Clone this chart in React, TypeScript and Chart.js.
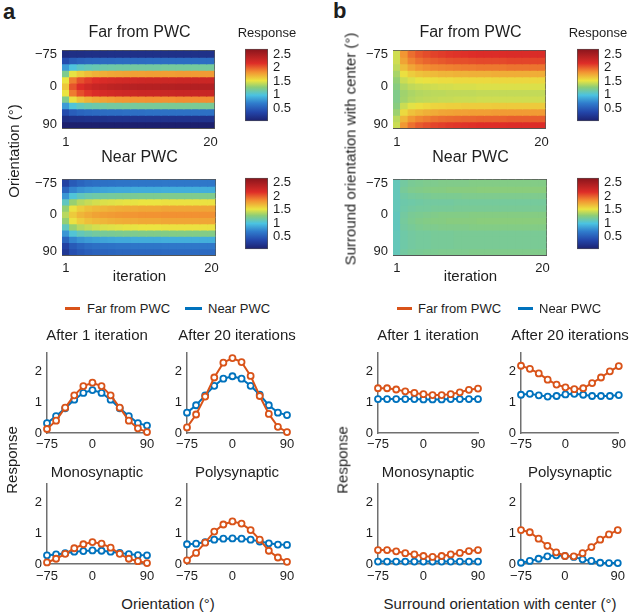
import React, { useEffect, useRef } from "react";
import { Chart, registerables } from "chart.js";
Chart.register(...registerables);

const FONT = "'Liberation Sans', Arial, Helvetica, sans-serif";
const TEXT = "#1e1e1e";
const AXIS = "#707070";
const ORANGE = "#D95319";
const BLUE = "#0072BD";

// ---------- data ----------
const ORIENTATIONS = [-75, -60, -45, -30, -15, 0, 15, 30, 45, 60, 75, 90];
const ITERATIONS = ["1","2","3","4","5","6","7","8","9","10","11","12","13","14","15","16","17","18","19","20"];
const HEAT_TICK_ORIENTATIONS = [-75, 0, 90];
const COLORBAR_TICKS = [0.5, 1, 1.5, 2, 2.5];
const LINE_Y_TICKS = [0, 1, 2];
const LINE_X_TICKS = [-75, 0, 90];
const CMAP_MIN = 0.03;
const CMAP_MAX = 2.69;

// panel a line plots (Far = orange, Near = blue)
const aFar1 = [0.13, 0.40, 0.82, 1.22, 1.52, 1.63, 1.52, 1.22, 0.82, 0.40, 0.15, 0.03];
const aNear1 = [0.32, 0.55, 0.80, 1.08, 1.30, 1.39, 1.30, 1.08, 0.80, 0.55, 0.32, 0.24];
const aFar20 = [0.18, 0.60, 1.18, 1.80, 2.28, 2.43, 2.30, 1.85, 1.20, 0.62, 0.20, 0.03];
const aNear20 = [0.66, 0.90, 1.22, 1.53, 1.76, 1.84, 1.76, 1.53, 1.24, 0.90, 0.66, 0.58];
const aFarMono = [0.05, 0.17, 0.33, 0.51, 0.64, 0.71, 0.66, 0.53, 0.33, 0.17, 0.09, 0.03];
const aNearMono = [0.28, 0.31, 0.35, 0.40, 0.42, 0.44, 0.43, 0.40, 0.36, 0.32, 0.29, 0.28];
const aFarPoly = [0.12, 0.36, 0.69, 1.05, 1.28, 1.38, 1.31, 1.10, 0.79, 0.43, 0.21, 0.07];
const aNearPoly = [0.64, 0.66, 0.71, 0.79, 0.82, 0.83, 0.82, 0.79, 0.73, 0.67, 0.63, 0.62];

// panel b line plots
const bFar1 = [1.45, 1.45, 1.41, 1.35, 1.30, 1.26, 1.23, 1.23, 1.26, 1.32, 1.40, 1.44];
const bNear1 = [1.10, 1.10, 1.10, 1.10, 1.10, 1.09, 1.09, 1.09, 1.10, 1.10, 1.10, 1.10];
const bFar20 = [2.18, 2.08, 1.93, 1.73, 1.57, 1.48, 1.42, 1.45, 1.62, 1.80, 2.00, 2.17];
const bNear20 = [1.24, 1.27, 1.22, 1.18, 1.20, 1.25, 1.27, 1.24, 1.20, 1.20, 1.20, 1.23];
const bFarMono = [0.45, 0.45, 0.41, 0.35, 0.31, 0.26, 0.23, 0.26, 0.31, 0.36, 0.42, 0.45];
const bNearMono = [0.08, 0.08, 0.08, 0.08, 0.08, 0.08, 0.08, 0.08, 0.08, 0.08, 0.08, 0.08];
const bFarPoly = [1.10, 1.03, 0.82, 0.59, 0.38, 0.26, 0.25, 0.35, 0.55, 0.79, 0.96, 1.10];
const bNearPoly = [0.04, 0.10, 0.17, 0.25, 0.28, 0.26, 0.23, 0.15, 0.10, 0.04, 0.03, 0.03];

// heatmaps: rows = orientations (-75 .. 90), columns = iterations 1..20
const heatAFar = [
  [0.13,0.16,0.16,0.17,0.17,0.17,0.18,0.18,0.18,0.18,0.18,0.18,0.18,0.18,0.18,0.18,0.18,0.18,0.18,0.18],
  [0.40,0.50,0.54,0.56,0.57,0.58,0.58,0.59,0.59,0.59,0.59,0.60,0.60,0.60,0.60,0.60,0.60,0.60,0.60,0.60],
  [0.82,1.00,1.07,1.10,1.12,1.14,1.15,1.16,1.16,1.17,1.17,1.17,1.17,1.18,1.18,1.18,1.18,1.18,1.18,1.18],
  [1.22,1.51,1.61,1.67,1.71,1.73,1.75,1.76,1.77,1.78,1.78,1.79,1.79,1.79,1.79,1.80,1.80,1.80,1.80,1.80],
  [1.52,1.90,2.04,2.11,2.16,2.19,2.21,2.23,2.24,2.25,2.26,2.27,2.27,2.27,2.27,2.28,2.28,2.28,2.28,2.28],
  [1.63,2.03,2.17,2.25,2.30,2.33,2.36,2.37,2.39,2.40,2.41,2.41,2.41,2.42,2.42,2.43,2.43,2.43,2.43,2.43],
  [1.52,1.91,2.05,2.13,2.18,2.21,2.23,2.25,2.26,2.27,2.28,2.28,2.28,2.29,2.29,2.30,2.30,2.30,2.30,2.30],
  [1.22,1.54,1.65,1.71,1.75,1.77,1.79,1.81,1.82,1.83,1.83,1.84,1.84,1.84,1.84,1.85,1.85,1.85,1.85,1.85],
  [0.82,1.01,1.08,1.12,1.14,1.15,1.17,1.17,1.18,1.18,1.19,1.19,1.19,1.20,1.20,1.20,1.20,1.20,1.20,1.20],
  [0.40,0.51,0.55,0.57,0.58,0.59,0.60,0.60,0.61,0.61,0.61,0.62,0.62,0.62,0.62,0.62,0.62,0.62,0.62,0.62],
  [0.15,0.18,0.18,0.19,0.19,0.19,0.20,0.20,0.20,0.20,0.20,0.20,0.20,0.20,0.20,0.20,0.20,0.20,0.20,0.20],
  [0.03,0.03,0.03,0.03,0.03,0.03,0.03,0.03,0.03,0.03,0.03,0.03,0.03,0.03,0.03,0.03,0.03,0.03,0.03,0.03],
];
const heatANear = [
  [0.32,0.49,0.55,0.59,0.61,0.62,0.63,0.64,0.64,0.65,0.65,0.65,0.65,0.66,0.66,0.66,0.66,0.66,0.66,0.66],
  [0.55,0.73,0.79,0.82,0.84,0.86,0.87,0.88,0.88,0.89,0.89,0.89,0.89,0.90,0.90,0.90,0.90,0.90,0.90,0.90],
  [0.80,1.01,1.09,1.13,1.15,1.17,1.18,1.19,1.20,1.20,1.21,1.21,1.21,1.22,1.22,1.22,1.22,1.22,1.22,1.22],
  [1.08,1.31,1.39,1.43,1.46,1.48,1.49,1.50,1.51,1.51,1.52,1.52,1.52,1.53,1.53,1.53,1.53,1.53,1.53,1.53],
  [1.30,1.53,1.61,1.66,1.69,1.70,1.72,1.73,1.74,1.74,1.75,1.75,1.75,1.76,1.76,1.76,1.76,1.76,1.76,1.76],
  [1.39,1.62,1.70,1.74,1.77,1.79,1.80,1.81,1.82,1.82,1.83,1.83,1.83,1.84,1.84,1.84,1.84,1.84,1.84,1.84],
  [1.30,1.53,1.61,1.66,1.69,1.70,1.72,1.73,1.74,1.74,1.75,1.75,1.75,1.76,1.76,1.76,1.76,1.76,1.76,1.76],
  [1.08,1.31,1.39,1.43,1.46,1.48,1.49,1.50,1.51,1.51,1.52,1.52,1.52,1.53,1.53,1.53,1.53,1.53,1.53,1.53],
  [0.80,1.02,1.10,1.14,1.17,1.19,1.20,1.21,1.22,1.22,1.23,1.23,1.23,1.24,1.24,1.24,1.24,1.24,1.24,1.24],
  [0.55,0.73,0.79,0.82,0.84,0.86,0.87,0.88,0.88,0.89,0.89,0.89,0.89,0.90,0.90,0.90,0.90,0.90,0.90,0.90],
  [0.32,0.49,0.55,0.59,0.61,0.62,0.63,0.64,0.64,0.65,0.65,0.65,0.65,0.66,0.66,0.66,0.66,0.66,0.66,0.66],
  [0.24,0.41,0.47,0.51,0.53,0.54,0.55,0.56,0.56,0.57,0.57,0.57,0.57,0.58,0.58,0.58,0.58,0.58,0.58,0.58],
];
const heatBFar = [
  [1.45,1.82,1.95,2.02,2.06,2.09,2.11,2.13,2.14,2.15,2.16,2.17,2.17,2.17,2.17,2.18,2.18,2.18,2.18,2.18],
  [1.45,1.77,1.88,1.94,1.98,2.00,2.02,2.04,2.05,2.05,2.06,2.07,2.07,2.07,2.07,2.08,2.08,2.08,2.08,2.08],
  [1.41,1.67,1.76,1.82,1.85,1.87,1.88,1.89,1.90,1.91,1.91,1.92,1.92,1.92,1.92,1.93,1.93,1.93,1.93,1.93],
  [1.35,1.54,1.61,1.65,1.67,1.68,1.70,1.70,1.71,1.71,1.72,1.72,1.72,1.73,1.73,1.73,1.73,1.73,1.73,1.73],
  [1.30,1.44,1.48,1.51,1.53,1.54,1.55,1.55,1.56,1.56,1.56,1.56,1.56,1.57,1.57,1.57,1.57,1.57,1.57,1.57],
  [1.26,1.37,1.41,1.43,1.44,1.45,1.46,1.46,1.47,1.47,1.47,1.48,1.48,1.48,1.48,1.48,1.48,1.48,1.48,1.48],
  [1.23,1.33,1.36,1.38,1.39,1.40,1.40,1.41,1.41,1.41,1.41,1.42,1.42,1.42,1.42,1.42,1.42,1.42,1.42,1.42],
  [1.23,1.34,1.38,1.40,1.41,1.42,1.43,1.43,1.44,1.44,1.44,1.45,1.45,1.45,1.45,1.45,1.45,1.45,1.45,1.45],
  [1.26,1.44,1.50,1.54,1.56,1.58,1.59,1.60,1.60,1.61,1.61,1.61,1.61,1.62,1.62,1.62,1.62,1.62,1.62,1.62],
  [1.32,1.56,1.65,1.69,1.72,1.74,1.76,1.77,1.78,1.78,1.79,1.79,1.79,1.80,1.80,1.80,1.80,1.80,1.80,1.80],
  [1.40,1.70,1.81,1.87,1.90,1.93,1.95,1.96,1.97,1.98,1.98,1.99,1.99,1.99,1.99,2.00,2.00,2.00,2.00,2.00],
  [1.44,1.81,1.94,2.01,2.05,2.08,2.10,2.12,2.13,2.14,2.15,2.16,2.16,2.16,2.16,2.17,2.17,2.17,2.17,2.17],
];
const heatBNear = [
  [1.10,1.17,1.20,1.21,1.22,1.22,1.23,1.23,1.23,1.23,1.24,1.24,1.24,1.24,1.24,1.24,1.24,1.24,1.24,1.24],
  [1.10,1.19,1.22,1.23,1.24,1.25,1.25,1.26,1.26,1.26,1.26,1.27,1.27,1.27,1.27,1.27,1.27,1.27,1.27,1.27],
  [1.10,1.16,1.18,1.19,1.20,1.21,1.21,1.21,1.21,1.22,1.22,1.22,1.22,1.22,1.22,1.22,1.22,1.22,1.22,1.22],
  [1.10,1.14,1.15,1.16,1.17,1.17,1.17,1.17,1.18,1.18,1.18,1.18,1.18,1.18,1.18,1.18,1.18,1.18,1.18,1.18],
  [1.10,1.15,1.17,1.18,1.18,1.19,1.19,1.19,1.20,1.20,1.20,1.20,1.20,1.20,1.20,1.20,1.20,1.20,1.20,1.20],
  [1.09,1.17,1.20,1.21,1.22,1.23,1.24,1.24,1.24,1.24,1.25,1.25,1.25,1.25,1.25,1.25,1.25,1.25,1.25,1.25],
  [1.09,1.18,1.21,1.23,1.24,1.25,1.25,1.26,1.26,1.26,1.26,1.27,1.27,1.27,1.27,1.27,1.27,1.27,1.27,1.27],
  [1.09,1.17,1.19,1.21,1.22,1.22,1.23,1.23,1.23,1.23,1.24,1.24,1.24,1.24,1.24,1.24,1.24,1.24,1.24,1.24],
  [1.10,1.15,1.17,1.18,1.18,1.19,1.19,1.19,1.20,1.20,1.20,1.20,1.20,1.20,1.20,1.20,1.20,1.20,1.20,1.20],
  [1.10,1.15,1.17,1.18,1.18,1.19,1.19,1.19,1.20,1.20,1.20,1.20,1.20,1.20,1.20,1.20,1.20,1.20,1.20,1.20],
  [1.10,1.15,1.17,1.18,1.18,1.19,1.19,1.19,1.20,1.20,1.20,1.20,1.20,1.20,1.20,1.20,1.20,1.20,1.20,1.20],
  [1.10,1.17,1.19,1.20,1.21,1.21,1.22,1.22,1.22,1.22,1.23,1.23,1.23,1.23,1.23,1.23,1.23,1.23,1.23,1.23],
];

// ---------- colormap (printed jet look) ----------
const CMAP_STOPS: [number, number[]][] = [
  [0.0, [28, 32, 110]],
  [0.125, [35, 70, 170]],
  [0.25, [48, 125, 205]],
  [0.36, [75, 195, 225]],
  [0.47, [140, 205, 120]],
  [0.56, [235, 228, 65]],
  [0.68, [242, 145, 50]],
  [0.8, [222, 45, 40]],
  [1.0, [135, 20, 28]],
];
const rgb = (c: number[]) => `rgb(${Math.round(c[0])},${Math.round(c[1])},${Math.round(c[2])})`;
function colorFor(v: number): string {
  let t = (v - CMAP_MIN) / (CMAP_MAX - CMAP_MIN);
  t = Math.max(0, Math.min(1, t));
  for (let i = 1; i < CMAP_STOPS.length; i++) {
    const [t1, c1] = CMAP_STOPS[i];
    const [t0, c0] = CMAP_STOPS[i - 1];
    if (t <= t1) {
      const f = (t - t0) / (t1 - t0);
      return rgb([0, 1, 2].map((k) => c0[k] + f * (c1[k] - c0[k])));
    }
  }
  return rgb(CMAP_STOPS[CMAP_STOPS.length - 1][1]);
}

const fmtNum = (v: number) => (v < 0 ? "\u2212" + Math.abs(v) : String(v));
const tickFont = { family: FONT, size: 13 };

type Box = { cl: number; ct: number; cr: number; cb: number; L: number; T: number; R: number; B: number; xPad?: number };

const baseOptions = {
  responsive: false,
  animation: false,
  devicePixelRatio: 1,
  events: [],
  plugins: { legend: { display: false }, tooltip: { enabled: false } },
};

function borderScale(position: string) {
  return {
    type: "linear",
    position,
    display: true,
    min: 0,
    max: 1,
    z: 2,
    grid: { display: false, drawTicks: false },
    ticks: { display: false },
    border: { display: true, color: "#555", width: 1 },
    afterFit: (s: any) => {
      if (position === "top") s.height = 0;
      else s.width = 0;
    },
  };
}

function heatmapConfig(rows: number[][], box: Box) {
  return {
    type: "bar",
    data: {
      labels: ITERATIONS,
      datasets: rows.map((row) => ({
        data: row.map(() => 1),
        backgroundColor: row.map(colorFor),
        borderWidth: 0,
        barPercentage: 1,
        categoryPercentage: 1,
        inflateAmount: 0.6,
      })),
    },
    options: {
      ...baseOptions,
      layout: { autoPadding: false, padding: { left: 0, top: box.T - box.ct, right: box.cr - box.R, bottom: 0 } },
      scales: {
        x: {
          type: "category",
          stacked: true,
          offset: true,
          z: 2,
          grid: { display: false, drawTicks: false },
          border: { display: true, color: "#555", width: 1 },
          ticks: { autoSkip: false, maxRotation: 0, padding: box.xPad ?? 6, color: TEXT, font: tickFont },
          afterBuildTicks: (s: any) => {
            s.ticks = [s.ticks[0], s.ticks[s.ticks.length - 1]];
          },
          afterFit: (s: any) => {
            s.height = box.cb - box.B;
          },
        },
        y: {
          type: "linear",
          stacked: true,
          min: 0,
          max: ORIENTATIONS.length,
          reverse: true,
          z: 2,
          grid: { display: false, drawTicks: false },
          border: { display: true, color: "#555", width: 1 },
          ticks: {
            padding: 5,
            color: TEXT,
            font: tickFont,
            callback: (v: number) => fmtNum(ORIENTATIONS[Math.floor(v)]),
          },
          afterBuildTicks: (s: any) => {
            s.ticks = HEAT_TICK_ORIENTATIONS.map((o) => ({ value: ORIENTATIONS.indexOf(o) + 0.5 }));
          },
          afterFit: (s: any) => {
            s.width = box.L - box.cl;
          },
        },
        xTop: borderScale("top"),
        yRight: borderScale("right"),
      },
    },
  };
}

function colorbarConfig(box: Box) {
  return {
    type: "bar",
    data: {
      labels: ["Response"],
      datasets: [
        {
          data: [[CMAP_MIN, CMAP_MAX]],
          backgroundColor: (ctx: any) => {
            const ca = ctx.chart.chartArea;
            if (!ca) return "#888";
            const g = ctx.chart.ctx.createLinearGradient(0, ca.bottom, 0, ca.top);
            CMAP_STOPS.forEach(([t, c]) => g.addColorStop(t, rgb(c)));
            return g;
          },
          borderColor: "#555",
          borderWidth: 1,
          borderSkipped: false,
          barPercentage: 1,
          categoryPercentage: 1,
        },
      ],
    },
    options: {
      ...baseOptions,
      layout: { autoPadding: false, padding: { left: box.L - box.cl, top: box.T - box.ct, right: 0, bottom: box.cb - box.B } },
      scales: {
        x: { display: false },
        y: {
          position: "right",
          min: CMAP_MIN,
          max: CMAP_MAX,
          grid: { display: false, drawTicks: false },
          border: { display: false },
          ticks: { padding: 5, color: TEXT, font: tickFont, callback: (v: number) => String(v) },
          afterBuildTicks: (s: any) => {
            s.ticks = COLORBAR_TICKS.map((v) => ({ value: v }));
          },
          afterFit: (s: any) => {
            s.width = box.cr - box.R;
          },
        },
      },
    },
  };
}

function series(values: number[], color: string) {
  return {
    data: ORIENTATIONS.map((o, i) => ({ x: o, y: values[i] })),
    borderColor: color,
    borderWidth: 2,
    pointRadius: 3,
    pointBorderWidth: 1.8,
    pointBorderColor: color,
    pointBackgroundColor: "#ffffff",
    clip: false,
    tension: 0,
  };
}

function lineConfig(far: number[], near: number[], box: Box) {
  return {
    type: "line",
    data: { datasets: [series(far, ORANGE), series(near, BLUE)] },
    options: {
      ...baseOptions,
      layout: { autoPadding: false, padding: { left: 0, top: box.T - box.ct, right: box.cr - box.R, bottom: 0 } },
      scales: {
        x: {
          type: "linear",
          min: -75,
          max: 90,
          grid: { display: false, drawTicks: false },
          border: { display: true, color: AXIS, width: 1.5 },
          ticks: { padding: box.xPad ?? 4, color: TEXT, font: tickFont, maxRotation: 0, callback: (v: number) => fmtNum(v) },
          afterBuildTicks: (s: any) => {
            s.ticks = LINE_X_TICKS.map((v) => ({ value: v }));
          },
          afterFit: (s: any) => {
            s.height = box.cb - box.B;
          },
        },
        y: {
          type: "linear",
          min: 0,
          max: 2.6,
          grid: { display: false, drawTicks: false },
          border: { display: true, color: AXIS, width: 1.5 },
          ticks: { padding: 5, color: TEXT, font: tickFont, callback: (v: number) => String(v) },
          afterBuildTicks: (s: any) => {
            s.ticks = LINE_Y_TICKS.map((v) => ({ value: v }));
          },
          afterFit: (s: any) => {
            s.width = box.L - box.cl;
          },
        },
      },
    },
  };
}

function ChartCanvas({ box, config }: { box: Box; config: any }) {
  const ref = useRef<HTMLCanvasElement>(null);
  useEffect(() => {
    const chart = new Chart(ref.current as HTMLCanvasElement, config);
    return () => chart.destroy();
  }, []);
  const w = box.cr - box.cl;
  const h = box.cb - box.ct;
  return (
    <canvas
      ref={ref}
      width={w}
      height={h}
      style={{ position: "absolute", left: box.cl, top: box.ct, width: w, height: h }}
    />
  );
}

function Label({ x, y, text, size = 15, bold = false, rotate = false, left = false }: any) {
  return (
    <div
      style={{
        position: "absolute",
        left: x,
        top: y,
        transform: `translate(${left ? "0" : "-50%"}, -50%)${rotate ? " rotate(-90deg)" : ""}`,
        fontFamily: FONT,
        fontSize: size,
        lineHeight: 1,
        fontWeight: bold ? 700 : 400,
        color: TEXT,
        whiteSpace: "nowrap",
      }}
    >
      {text}
    </div>
  );
}

function LegendLine({ x1, x2, y, color }: any) {
  return <div style={{ position: "absolute", left: x1, top: y - 1.5, width: x2 - x1, height: 3, background: color }} />;
}

// geometry
const HA1: Box = { cl: 20, ct: 38, cr: 225, cb: 152, L: 62, T: 43, R: 217, B: 128, xPad: 7 };
const HA2: Box = { cl: 20, ct: 167, cr: 225, cb: 282, L: 62, T: 172, R: 217, B: 255, xPad: 6 };
const HB1: Box = { cl: 352, ct: 38, cr: 556, cb: 152, L: 393, T: 43, R: 548, B: 128, xPad: 7 };
const HB2: Box = { cl: 352, ct: 167, cr: 556, cb: 282, L: 393, T: 172, R: 548, B: 255, xPad: 6 };
const CA1: Box = { cl: 240, ct: 36, cr: 300, cb: 134, L: 245, T: 43, R: 268, B: 128 };
const CA2: Box = { cl: 240, ct: 165, cr: 300, cb: 262, L: 245, T: 172, R: 268, B: 255 };
const CB1: Box = { cl: 572, ct: 36, cr: 630, cb: 134, L: 577, T: 43, R: 599, B: 128 };
const CB2: Box = { cl: 572, ct: 165, cr: 630, cb: 262, L: 577, T: 172, R: 599, B: 255 };

const TOP = { ct: 340, cb: 456, T: 347, B: 433, xPad: 4 };
const BOT = { ct: 471, cb: 587, T: 478, B: 564, xPad: 5 };
const COL_AL = { cl: 12, cr: 160, L: 47, R: 147 };
const COL_AR = { cl: 155, cr: 300, L: 187, R: 287 };
const COL_BL = { cl: 343, cr: 491, L: 378, R: 478 };
const COL_BR = { cl: 488, cr: 630, L: 521, R: 620 };
const mk = (r: any, c: any): Box => ({ ...r, ...c });

export default function App() {
  return (
    <div style={{ position: "fixed", left: 0, top: 0, width: 630, height: 613, background: "#fff", overflow: "hidden" }}>
      <ChartCanvas box={HA1} config={heatmapConfig(heatAFar, HA1)} />
      <ChartCanvas box={HA2} config={heatmapConfig(heatANear, HA2)} />
      <ChartCanvas box={HB1} config={heatmapConfig(heatBFar, HB1)} />
      <ChartCanvas box={HB2} config={heatmapConfig(heatBNear, HB2)} />
      <ChartCanvas box={CA1} config={colorbarConfig(CA1)} />
      <ChartCanvas box={CA2} config={colorbarConfig(CA2)} />
      <ChartCanvas box={CB1} config={colorbarConfig(CB1)} />
      <ChartCanvas box={CB2} config={colorbarConfig(CB2)} />

      <ChartCanvas box={mk(TOP, COL_AL)} config={lineConfig(aFar1, aNear1, mk(TOP, COL_AL))} />
      <ChartCanvas box={mk(TOP, COL_AR)} config={lineConfig(aFar20, aNear20, mk(TOP, COL_AR))} />
      <ChartCanvas box={mk(BOT, COL_AL)} config={lineConfig(aFarMono, aNearMono, mk(BOT, COL_AL))} />
      <ChartCanvas box={mk(BOT, COL_AR)} config={lineConfig(aFarPoly, aNearPoly, mk(BOT, COL_AR))} />
      <ChartCanvas box={mk(TOP, COL_BL)} config={lineConfig(bFar1, bNear1, mk(TOP, COL_BL))} />
      <ChartCanvas box={mk(TOP, COL_BR)} config={lineConfig(bFar20, bNear20, mk(TOP, COL_BR))} />
      <ChartCanvas box={mk(BOT, COL_BL)} config={lineConfig(bFarMono, bNearMono, mk(BOT, COL_BL))} />
      <ChartCanvas box={mk(BOT, COL_BR)} config={lineConfig(bFarPoly, bNearPoly, mk(BOT, COL_BR))} />

      <Label x={3} y={12} text="a" size={22} bold left />
      <Label x={333} y={11} text="b" size={22} bold left />

      <Label x={139.5} y={31.5} text="Far from PWC" size={16} />
      <Label x={139.5} y={156.5} text="Near PWC" size={16} />
      <Label x={470.5} y={31.5} text="Far from PWC" size={16} />
      <Label x={470.5} y={156.5} text="Near PWC" size={16} />
      <Label x={267} y={32} text="Response" size={13} />
      <Label x={598} y={32} text="Response" size={13} />
      <Label x={139.5} y={275} text="iteration" size={15} />
      <Label x={470.5} y={275} text="iteration" size={15} />
      <Label x={12.5} y={150.5} text="Orientation (°)" size={15} rotate />
      <Label x={350} y={149} text="Surround orientation with center (°)" size={15} rotate />

      <LegendLine x1={65} x2={80} y={308} color={ORANGE} />
      <Label x={87} y={308} text="Far from PWC" size={13} left />
      <LegendLine x1={185} x2={202} y={308} color={BLUE} />
      <Label x={208} y={308} text="Near PWC" size={13} left />
      <LegendLine x1={397} x2={412} y={308} color={ORANGE} />
      <Label x={418} y={308} text="Far from PWC" size={13} left />
      <LegendLine x1={518} x2={533} y={308} color={BLUE} />
      <Label x={539} y={308} text="Near PWC" size={13} left />

      <Label x={97} y={334} text="After 1 iteration" size={15} />
      <Label x={237} y={334} text="After 20 iterations" size={15} />
      <Label x={97} y={471} text="Monosynaptic" size={15} />
      <Label x={237} y={471} text="Polysynaptic" size={15} />
      <Label x={428} y={334} text="After 1 iteration" size={15} />
      <Label x={570} y={334} text="After 20 iterations" size={15} />
      <Label x={428} y={471} text="Monosynaptic" size={15} />
      <Label x={570} y={471} text="Polysynaptic" size={15} />

      <Label x={11} y={460} text="Response" size={15} rotate />
      <Label x={342} y={460} text="Response" size={15} rotate />
      <Label x={168} y={603} text="Orientation (°)" size={15} />
      <Label x={500} y={603} text="Surround orientation with center (°)" size={15} />
    </div>
  );
}
